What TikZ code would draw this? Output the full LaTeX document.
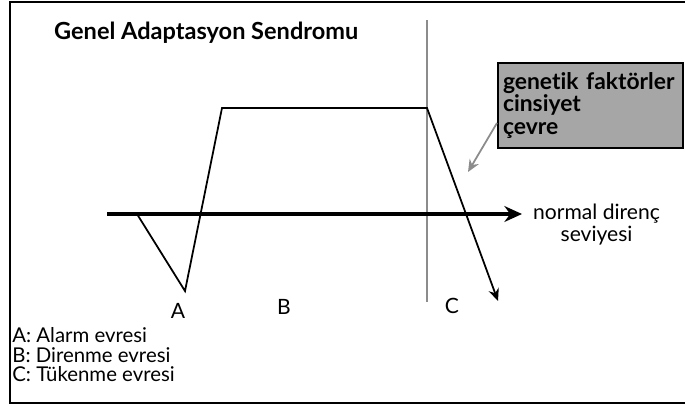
\documentclass[tikz,border=0pt]{standalone}
\usepackage{fontspec}
\setmainfont{Lato}[Ligatures=NoCommon]
\usetikzlibrary{positioning,arrows.meta}
\definecolor{boxgray}{RGB}{166,166,166}
\definecolor{linegray}{RGB}{140,140,140}

\begin{document}
\begin{tikzpicture}[x=0.02cm,y=-0.02cm,
    phase/.style={font=\fontsize{12}{13}\selectfont},
    curve/.style={line width=1pt},
    factorbox/.style={draw, line width=1.2pt, fill=boxgray, minimum width=3.7cm, minimum height=1.7cm, inner sep=2pt, align=left, font=\bfseries\fontsize{13}{12.6}\selectfont}]
  \useasboundingbox (0,0) rectangle (685,406);
  % frame
  \draw[line width=1.6pt] (685,2) -- (10,2) -- (10,403) -- (685,403);

  % title
  \node[anchor=base west, font=\bfseries\fontsize{13.4}{15}\selectfont] (title) at (48,39) {Genel Adaptasyon Sendromu};

  % divider between B and C
  \coordinate (divtop) at (427,20);
  \coordinate (divbot) at (427,302);
  \draw[linegray, line width=1pt] (divtop) -- (divbot);

  % normal resistance level
  \coordinate (axL) at (107,214);
  \coordinate (axR) at (522,214);
  \draw[line width=2.2pt, -{Stealth[length=10pt,width=9pt]}] (axL) -- (axR);
  \node[right=0.1cm of axR, anchor=west, align=center, font=\fontsize{12}{12.5}\selectfont, yshift=-0.22cm] (level) {normal direnç\\seviyesi};

  % response curve
  \coordinate (c0) at (137,214);
  \coordinate (c1) at (185,291);
  \coordinate (c2) at (222,108);
  \coordinate (c3) at (427,108);
  \coordinate (c4) at (498,301);
  \draw[curve, -{Stealth[length=7pt,width=6pt]}] (c0) -- (c1) -- (c2) -- (c3) -- (c4);

  % phase labels
  \node[phase] (A) at (178,311) {A};
  \node[phase] (B) at (284,307) {B};
  \node[phase] (C) at (452,306) {C};

  % factors
  \node[factorbox, text width=3.5cm] (factors) at (590.5,105.5) {genetik faktörler\\cinsiyet\\çevre};
  \coordinate (hit) at (468,172);
  \draw[linegray, line width=1pt, -{Stealth[length=7pt,width=6pt]}] ([yshift=-0.35cm]factors.west) -- (hit);

  % legend
  \node[anchor=north west, align=left, inner sep=0pt, font=\fontsize{11.6}{11.2}\selectfont] (legend) at (12,327) {A: Alarm evresi\\B: Direnme evresi\\C: Tükenme evresi};
\end{tikzpicture}
\end{document}
